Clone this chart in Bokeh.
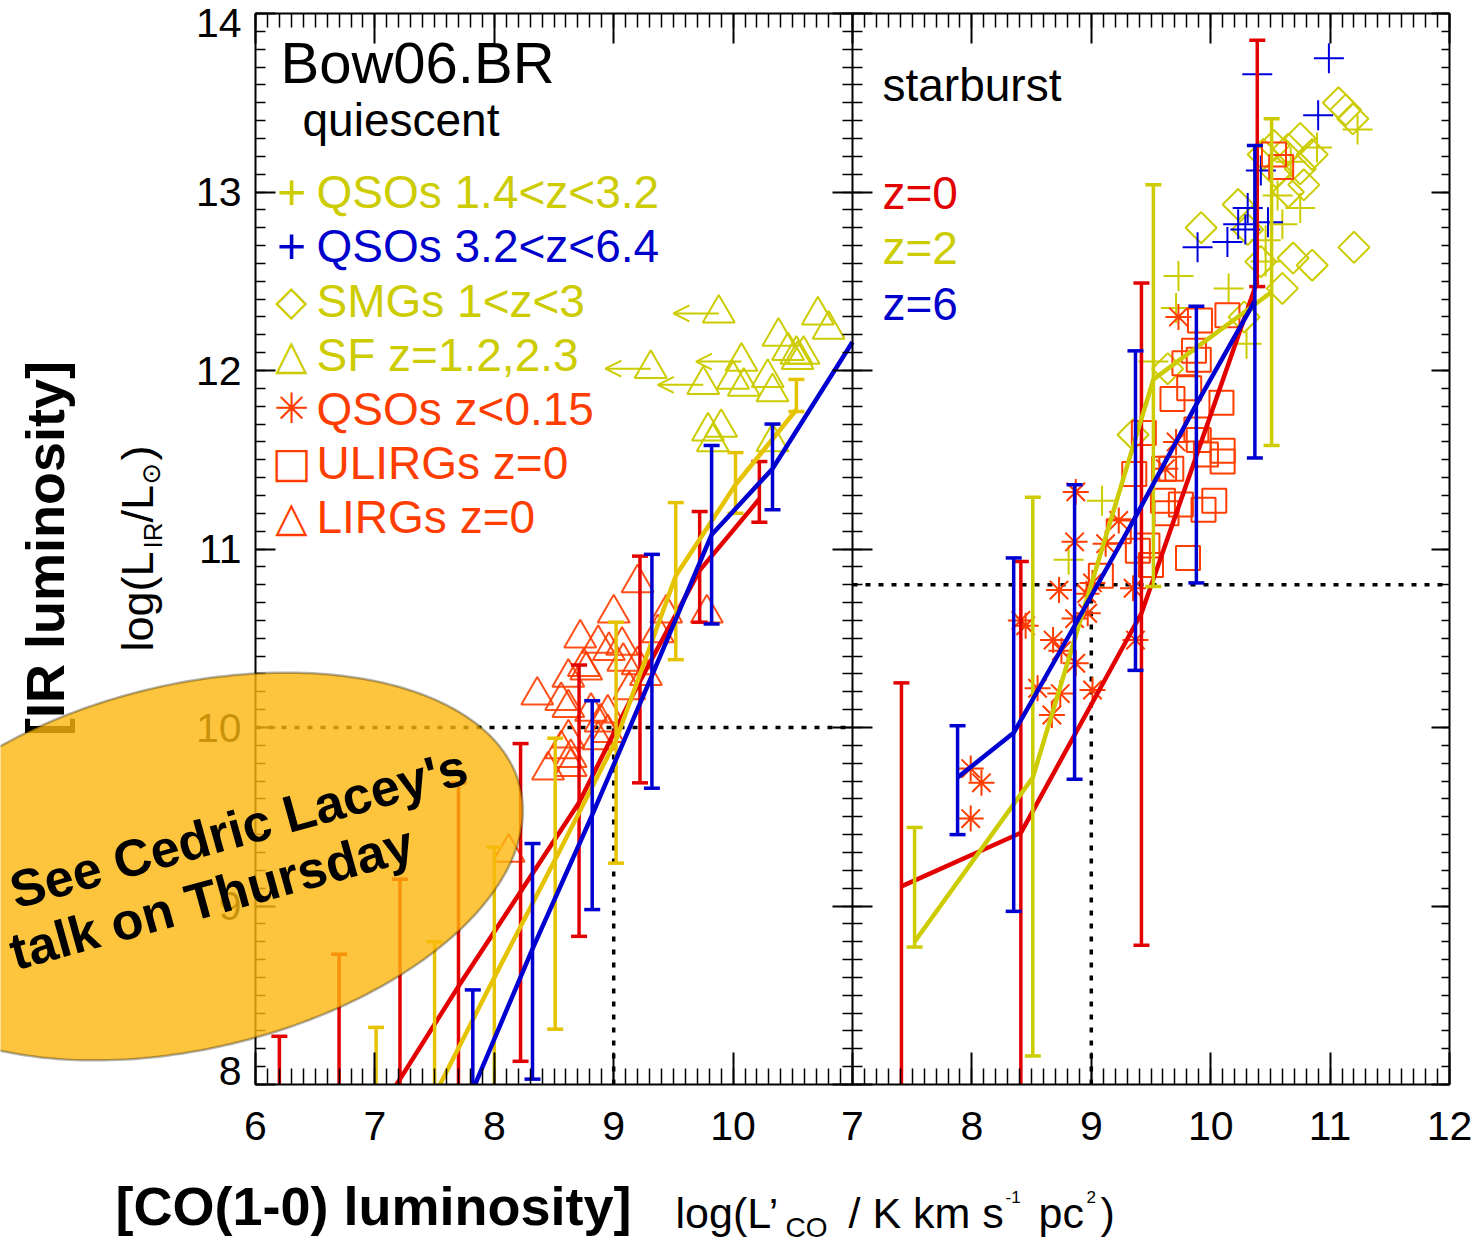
import numpy as np
from bokeh.plotting import figure
from bokeh.models import (Range1d, LinearAxis, FixedTicker, Label, PolyAnnotation,
                          Arrow, OpenHead, ColumnDataSource, BoxAnnotation)
from bokeh.embed import file_html
from bokeh.resources import INLINE

# ---------------- data ----------------
# x = log L'CO, y = log L_IR ; model medians with upper / lower percentiles
# quiescent panel (left)
q_red_x = [6.20, 6.70, 7.21, 7.70, 8.22, 8.71, 9.22, 9.72, 10.22]
q_red_y = [7.00, 7.52, 8.03, 8.55, 9.08, 9.58, 10.26, 10.88, 11.28]
q_red_hi = [8.27, 8.73, 9.15, 9.69, 9.91, 10.35, 10.96, 11.21, 11.49]
q_red_lo = [6.50, 7.00, 7.50, 7.80, 8.13, 8.83, 9.69, 10.59, 11.15]

q_yel_x = [7.01, 7.50, 8.00, 8.51, 9.02, 9.52, 10.02, 10.53]
q_yel_y = [7.29, 7.94, 8.60, 9.26, 9.93, 10.85, 11.36, 11.78]
q_yel_hi = [8.32, 8.80, 9.33, 9.94, 10.59, 11.26, 11.54, 11.95]
q_yel_lo = [6.80, 7.30, 7.90, 8.31, 9.24, 10.38, 11.20, 11.77]

q_blu_x = [7.82, 8.32, 8.82, 9.32, 9.82, 10.33, 11.00]
q_blu_y = [7.97, 8.76, 9.51, 10.29, 11.08, 11.45, 12.16]
q_blu_hi = [8.53, 9.35, 10.15, 10.97, 11.58, 11.70, np.nan]
q_blu_lo = [7.50, 8.03, 8.98, 9.66, 10.58, 11.22, np.nan]

# starburst panel (right)
s_red_x = [7.41, 8.41, 9.42, 10.39]
s_red_y = [9.11, 9.41, 10.64, 12.50]
s_red_hi = [10.25, 10.93, 12.49, 13.85]
s_red_lo = [7.00, 7.00, 8.78, 12.47]

s_yel_x = [7.52, 8.51, 9.52, 10.51]
s_yel_y = [8.80, 9.72, 11.95, 12.44]
s_yel_hi = [9.44, 11.29, 13.04, 13.41]
s_yel_lo = [8.77, 8.16, 10.79, 11.58]

s_blu_x = [7.88, 8.35, 8.86, 9.37, 9.88, 10.37]
s_blu_y = [9.72, 9.97, 10.57, 11.18, 11.81, 12.39]
s_blu_hi = [10.01, 10.95, 11.36, 12.11, 12.36, 13.26]
s_blu_lo = [9.40, 8.97, 9.71, 10.32, 10.81, 11.51]

# observations, left panel: SF z=1.2,2.3 (triangles) ; limit flag = 1 -> upper limit in x
sf_x = [9.88, 9.31, 10.07, 9.75, 10.00, 10.09, 9.79, 9.90, 9.83, 10.38, 10.46, 10.53,
        10.59, 10.54, 10.29, 10.33, 10.71, 10.80, 10.33]
sf_y = [12.32, 12.01, 12.05, 11.92, 11.95, 11.91, 11.66, 11.68, 11.60, 12.19, 12.11, 12.09,
        12.09, 12.06, 11.96, 11.88, 12.31, 12.23, 11.60]
sf_lim = [1, 1, 1, 1, 0, 0, 0, 0, 0, 0, 0, 0, 0, 0, 0, 0, 0, 0, 0]

# LIRGs z=0 (triangles)
lirg_x = [9.20, 9.00, 9.44, 9.78, 8.72, 8.87, 8.96, 9.07, 9.37, 9.08, 9.20, 9.27, 8.75, 8.62,
          8.77, 8.36, 8.56, 8.62, 8.81, 8.95, 8.89, 9.13, 8.62, 8.87, 8.95, 8.56, 8.64, 8.45,
          8.64, 8.12]
lirg_y = [10.81, 10.64, 10.64, 10.64, 10.50, 10.47, 10.43, 10.46, 10.53, 10.37, 10.35, 10.29,
          10.34, 10.28, 10.32, 10.18, 10.15, 10.11, 10.09, 10.08, 10.03, 10.21, 9.94, 9.93,
          9.97, 9.88, 9.83, 9.76, 9.78, 9.30]

# right panel: QSOs z<0.15 (asterisks)
qso0_x = [7.99, 8.08, 7.99, 8.41, 8.45, 8.55, 8.67, 8.74, 8.68, 8.75, 8.73, 8.86, 8.87,
          8.97, 8.96, 9.01, 9.01, 8.86, 8.87, 9.12, 9.23, 9.35, 9.37, 9.62, 9.71, 9.73]
qso0_y = [9.77, 9.69, 9.49, 10.60, 10.57, 10.22, 10.07, 10.19, 10.49, 10.43, 10.77, 10.61,
          10.36, 10.64, 10.75, 10.81, 10.21, 11.04, 11.32, 11.03, 11.16, 10.78, 10.49, 11.45,
          11.60, 12.30]

# ULIRGs z=0 (squares)
ulirg_x = [10.53, 10.59, 9.91, 10.14, 9.86, 9.90, 9.78, 9.82, 9.68, 10.09, 9.44, 9.88, 9.90,
           9.96, 10.10, 10.10, 9.36, 9.61, 9.67, 9.60, 9.75, 9.94, 10.03, 9.63, 9.23, 9.47,
           9.81, 9.08, 9.50, 9.39]
ulirg_y = [13.21, 13.14, 12.28, 12.31, 12.11, 12.06, 12.04, 11.90, 11.84, 11.82, 11.65, 11.67,
           11.61, 11.53, 11.55, 11.49, 11.42, 11.45, 11.45, 11.27, 11.25, 11.22, 11.27, 11.20,
           11.10, 11.02, 10.95, 10.85, 10.91, 10.99]

# QSOs 1.4<z<3.2 (yellow plus)
qso1_x = [11.23, 10.75, 10.89, 10.56, 10.60, 10.46, 9.73, 10.15, 9.71, 10.30, 9.52, 9.09,
          8.81, 10.67, 10.46]
qso1_y = [13.35, 12.91, 13.25, 12.98, 12.82, 12.73, 12.53, 12.46, 12.35, 12.15, 12.05, 11.27,
          10.94, 13.17, 12.61]

# QSOs 3.2<z<6.4 (blue plus)
qso3_x = [10.99, 10.39, 10.90, 10.42, 10.31, 10.48, 10.29, 10.14, 9.89, 10.23]
qso3_y = [13.75, 13.66, 13.43, 13.12, 12.91, 12.83, 12.79, 12.72, 12.69, 12.82]

# SMGs 1<z<3 (diamonds)
smg_x = [11.07, 11.13, 11.19, 10.53, 10.44, 10.65, 10.75, 10.85, 10.75, 10.78, 10.65, 10.55,
         10.23, 9.92, 10.31, 11.20, 10.42, 10.69, 10.85, 10.60, 10.28, 9.35, 9.64]
smg_y = [13.50, 13.46, 13.41, 13.26, 13.21, 13.24, 13.30, 13.21, 13.13, 13.04, 13.00, 13.11,
         12.93, 12.80, 12.79, 12.69, 12.61, 12.63, 12.59, 12.46, 12.30, 11.64, 12.01]

# reference lines (dotted)
q_thr_x, q_thr_y = 9.0, 10.0
s_thr_x, s_thr_y = 9.0, 10.8

left_ticks = [6, 7, 8, 9, 10]
right_ticks = [7, 8, 9, 10, 11, 12]
y_ticks = [8, 9, 10, 11, 12, 13, 14]

legend_rows = [("+", "QSOs 1.4<z<3.2", "#CCCC00"),
               ("+", "QSOs 3.2<z<6.4", "#0000CC"),
               ("\u25C7", "SMGs 1<z<3", "#CCCC00"),
               ("\u25B3", "SF z=1.2,2.3", "#CCCC00"),
               ("\u2733", "QSOs z<0.15", "#FF3D00"),
               ("\u25A1", "ULIRGs z=0", "#FF3D00"),
               ("\u25B3", "LIRGs z=0", "#FF3D00")]

# ---------------- geometry ----------------
W, H = 1479, 1242
FL, FR, FT, FB = 255, 1449, 13, 1084      # plot box in page pixels
SHIFT = 4.0                                # right panel 7..12 drawn at 11..16
PXX = (FR - FL) / 10.0
PXY = (FB - FT) / 6.0

def dx(px):
    return 6 + (px - FL) / PXX

def dy(py):
    return 8 + (FB - py) / PXY

RED = "#E30000"
YEL = "#CCCC00"
GOLD = "#E6C300"
BLU = "#0000D0"
ORG = "#FF3D00"

p = figure(width=W, height=H, output_backend="svg", toolbar_location=None,
           x_range=Range1d(dx(0), dx(W)), y_range=Range1d(dy(H), dy(0)),
           min_border=0, x_axis_type=None, y_axis_type=None)
p.extra_x_ranges = {"r": Range1d(dx(0) - SHIFT, dx(W) - SHIFT)}
p.xgrid.visible = False
p.ygrid.visible = False
p.outline_line_color = None
p.background_fill_color = "white"
p.border_fill_color = "white"

xt = list(left_ticks) + [t + SHIFT for t in right_ticks]
xminor = list(np.round(np.arange(6, 16.001, 0.1), 3))
yminor = list(np.round(np.arange(8, 14.001, 0.1), 3))
xticker = FixedTicker(ticks=xt, minor_ticks=xminor)
yticker = FixedTicker(ticks=y_ticks, minor_ticks=yminor)
xover = {t + SHIFT: str(t) for t in right_ticks}
blank_x = {t: "" for t in xt}
blank_y = {t: "" for t in y_ticks}

def make_axis(loc, side, ticker, bounds, tin, mtin, tout=0, mtout=0, overrides=None,
              standoff=5):
    ax = LinearAxis(ticker=ticker, fixed_location=loc, bounds=bounds,
                    major_label_overrides=overrides or {}, major_label_standoff=standoff)
    ax.axis_line_color = "black"
    ax.axis_line_width = 2
    ax.major_tick_line_width = 2
    ax.minor_tick_line_width = 1.5
    ax.major_tick_in = tin
    ax.major_tick_out = tout
    ax.minor_tick_in = mtin
    ax.minor_tick_out = mtout
    ax.major_label_text_font = "Liberation Sans"
    ax.major_label_text_font_size = "41px"
    ax.major_label_text_color = "black"
    p.add_layout(ax, side)
    return ax

# masks keep the data inside the two boxes (drawn after glyphs, below the axes)
for kw in (dict(top=8), dict(bottom=14), dict(right=6), dict(left=16)):
    p.add_layout(BoxAnnotation(fill_color="white", fill_alpha=1.0, line_alpha=0,
                               level="glyph", **kw))

make_axis(8, "below", xticker, (6, 16), 32, 16, overrides=xover, standoff=27)
make_axis(14, "above", xticker, (6, 16), 30, 14, overrides=blank_x)
make_axis(6, "left", yticker, (8, 14), 20, 10, overrides={8: "", 14: ""}, standoff=14)
make_axis(16, "right", yticker, (8, 14), 18, 8, overrides=blank_y)
make_axis(11, "left", yticker, (8, 14), 20, 10, tout=20, mtout=10, overrides=blank_y)

# dotted reference lines
dot = dict(line_color="black", line_width=3.5, line_dash="5 8")
p.segment(x0=[6, q_thr_x], y0=[q_thr_y, 8], x1=[11, q_thr_x], y1=[q_thr_y, q_thr_y], **dot)
p.segment(x0=[7, s_thr_x], y0=[s_thr_y, 8], x1=[12, s_thr_x], y1=[s_thr_y, s_thr_y],
          x_range_name="r", **dot)

# observed points
mk = dict(fill_color=None, line_width=2)
p.scatter(sf_x, sf_y, marker="triangle", size=32, line_color=YEL, **mk)
p.scatter(lirg_x, lirg_y, marker="triangle", size=32, line_color=ORG, line_alpha=0.9,
          fill_color=None, line_width=2)
lim_x = [x for x, f in zip(sf_x, sf_lim) if f]
lim_y = [y for y, f in zip(sf_y, sf_lim) if f]
arr_len = 0.38
src = ColumnDataSource(dict(xs=lim_x, ys=lim_y, xe=[x - arr_len for x in lim_x], ye=lim_y))
p.add_layout(Arrow(end=OpenHead(size=16, line_color=YEL, line_width=2),
                   x_start="xs", y_start="ys", x_end="xe", y_end="ye",
                   line_color=YEL, line_width=2, source=src))

p.scatter(smg_x, smg_y, marker="square", angle=np.pi / 4, size=22, line_color=YEL,
          x_range_name="r", **mk)
p.scatter(qso1_x, qso1_y, marker="cross", size=30, line_color=YEL, x_range_name="r", **mk)
p.scatter(qso3_x, qso3_y, marker="cross", size=30, line_color="#0000DD", x_range_name="r", **mk)
p.scatter(ulirg_x, ulirg_y, marker="square", size=24, line_color=ORG, x_range_name="r", **mk)
p.scatter(qso0_x, qso0_y, marker="asterisk", size=26, line_color=ORG, x_range_name="r", **mk)

# model curves with error bars
def model(xs, ys, hi, lo, color, rng):
    p.segment(x0=xs, y0=lo, x1=xs, y1=hi, line_color=color, line_width=3.5, x_range_name=rng)
    p.scatter(xs, hi, marker="dash", size=16, line_color=color, line_width=3.5, x_range_name=rng)
    p.scatter(xs, lo, marker="dash", size=16, line_color=color, line_width=3.5, x_range_name=rng)
    p.line(xs, ys, line_color=color, line_width=4.5, x_range_name=rng)

model(q_red_x, q_red_y, q_red_hi, q_red_lo, RED, "default")
model(q_yel_x, q_yel_y, q_yel_hi, q_yel_lo, GOLD, "default")
model(q_blu_x, q_blu_y, q_blu_hi, q_blu_lo, BLU, "default")
model(s_red_x, s_red_y, s_red_hi, s_red_lo, RED, "r")
model(s_yel_x, s_yel_y, s_yel_hi, s_yel_lo, YEL, "r")
model(s_blu_x, s_blu_y, s_blu_hi, s_blu_lo, BLU, "r")

# ---------------- texts ----------------
def lab(px, py, text, size, color="black", align="left", font="Liberation Sans",
        style="normal", angle=0.0, baseline="middle"):
    p.add_layout(Label(x=dx(px), y=dy(py), text=text, text_font_size=f"{size}px",
                       text_color=color, text_align=align, text_baseline=baseline,
                       text_font=font, text_font_style=style, angle=angle))

lab(280, 62, "Bow06.BR", 58)
lab(302, 119, "quiescent", 46)
rows_y = [191, 245, 300, 354, 408, 462, 516]
for (sym, txt, col), ry in zip(legend_rows, rows_y):
    if sym == "+":
        lab(291, ry, sym, 50, col, align="center")
    else:
        lab(291, ry, sym, 42, col, align="center", font="DejaVu Sans")
    lab(316, ry, txt, 46, col)

lab(882, 84, "starburst", 46)
for txt, col, ry in [("z=0", RED, 192), ("z=2", YEL, 247), ("z=6", "#0000CC", 303)]:
    lab(882, ry, txt, 46, col)

# end tick labels nudged inward
lab(241, 22, "14", 41, align="right")
lab(241, 1070, "8", 41, align="right")

# axis titles
up = np.pi / 2
lab(137, 651, "log(L", 45, angle=up)
lab(152, 548, "IR", 26, angle=up)
lab(137, 522, "/L", 45, angle=up)
lab(150, 484, "\u2299", 26, font="DejaVu Sans", angle=up)
lab(137, 460, ")", 45, angle=up)
lab(44, 548, "[IR luminosity]", 54, style="bold", align="center", angle=up)

lab(115, 1205, "[CO(1-0) luminosity]", 54, style="bold")
lab(675, 1212, "log(L\u2019", 43)
lab(785, 1227, "CO", 28)
lab(848, 1212, "/ K km s", 43)
lab(1005, 1196, "-1", 17)
lab(1038, 1212, "pc", 43)
lab(1086, 1196, "2", 17)
lab(1100, 1212, ")", 43)

# call-out ellipse
cx, cy, ea, eb, th = 190.0, 866.0, 339.0, 182.0, np.deg2rad(13.5)
t = np.linspace(0, 2 * np.pi, 260)
ex = cx + ea * np.cos(t) * np.cos(th) + eb * np.sin(t) * np.sin(th)
ey = cy - ea * np.cos(t) * np.sin(th) + eb * np.sin(t) * np.cos(th)
p.add_layout(PolyAnnotation(xs=[float(dx(v)) for v in ex], ys=[float(dy(v)) for v in ey],
                            fill_color="#FBB60C", fill_alpha=0.8,
                            line_color="black", line_width=2.5))
ang = np.deg2rad(15.5)
lab(238, 828, "See Cedric Lacey's", 52, style="bold", align="center", angle=ang)
lab(211, 897, "talk on Thursday", 52, style="bold", align="center", angle=ang)

open("out.html", "w").write(file_html(p, INLINE))
